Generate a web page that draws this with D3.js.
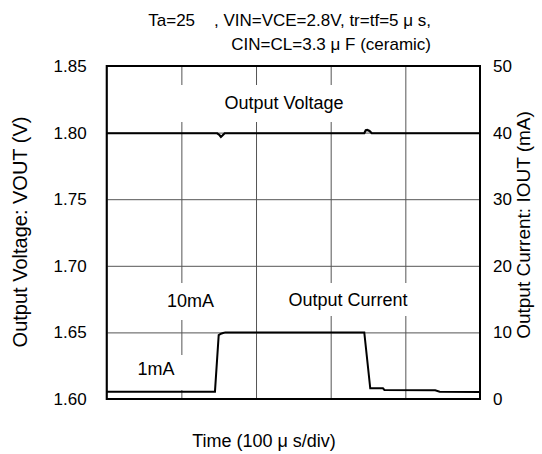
<!DOCTYPE html>
<html lang="en">
	<head>
		<meta charset="utf-8">
		<title>Load transient</title>
		<script src="https://d3js.org/d3.v7.min.js"></script>
		<style>
			body { margin: 0; background: #fff; }
			text { font-family: Arial, "Liberation Sans", sans-serif; fill: #000; }
		</style>
	</head>
	<body>
		<script type="text/javascript">

			// data (time in us)
			var voltTime = [0, 148, 151, 153, 155, 158, 345, 347, 349, 352, 355, 500];
			var voltValue = [1.7995, 1.7995, 1.7982, 1.7968, 1.7978, 1.7995, 1.7995, 1.8018, 1.8020, 1.8012, 1.7995, 1.7995];

			var currTime = [0, 145, 150, 153, 156, 159, 345, 353, 370, 372, 440, 446, 500];
			var currValue = [1.1, 1.1, 9.6, 9.8, 9.9, 10.0, 10.0, 1.6, 1.6, 1.35, 1.3, 1.1, 1.05];

			var voltTicks = [1.60, 1.65, 1.70, 1.75, 1.80, 1.85];
			var currTicks = [0, 10, 20, 30, 40, 50];
			var timeTicks = [0, 100, 200, 300, 400, 500];

			var titleLines = ["Ta=25\u00a0\u00a0\u00a0\u00a0, VIN=VCE=2.8V, tr=tf=5 \u03bc s,", "CIN=CL=3.3 \u03bc F (ceramic)"];

			var w = 542, h = 454;
			var pLeft = 106.7, pRight = 480, pTop = 66, pBottom = 399;

			var x = d3.scaleLinear().domain([0, 500]).range([pLeft, pRight]);
			var yV = d3.scaleLinear().domain([1.60, 1.85]).range([pBottom, pTop]);
			var yI = d3.scaleLinear().domain([0, 50]).range([pBottom, pTop]);

			var svg = d3.select("body").append("svg").attr("width", w).attr("height", h);

			// grid
			svg.append("g")
				.attr("transform", "translate(0," + pBottom + ")")
				.call(d3.axisBottom(x).tickValues(timeTicks).tickSize(-(pBottom - pTop)).tickFormat(""))
				.call(function(g) { g.select(".domain").remove(); })
				.selectAll("line").attr("stroke", "#555").attr("stroke-width", 1);

			svg.append("g")
				.attr("transform", "translate(" + pLeft + ",0)")
				.call(d3.axisLeft(yV).tickValues(voltTicks).tickSize(-(pRight - pLeft)).tickPadding(20).tickFormat(d3.format(".2f")))
				.call(function(g) { g.select(".domain").remove(); })
				.call(function(g) { g.selectAll("line").attr("stroke", "#555").attr("stroke-width", 1); })
				.selectAll("text").attr("font-size", 17).attr("fill", "#000");

			svg.append("g")
				.attr("transform", "translate(" + pRight + ",0)")
				.call(d3.axisRight(yI).tickValues(currTicks).tickSize(0).tickPadding(13))
				.call(function(g) { g.select(".domain").remove(); })
				.selectAll("text").attr("font-size", 17).attr("fill", "#000");

			// white label boxes cut the grid
			var boxes = [
				{t: "Output Voltage", cx: 284, cy: 103, x0: 172, x1: 345, y0: 85, y1: 122},
				{t: "10mA", cx: 190.5, cy: 301, x0: 165, x1: 216, y0: 283, y1: 320},
				{t: "Output Current", cx: 348, cy: 300, x0: 286, x1: 412, y0: 283, y1: 316},
				{t: "1mA", cx: 156, cy: 369, x0: 136, x1: 190, y0: 355, y1: 390}
			];
			svg.selectAll("rect.box").data(boxes).enter().append("rect")
				.attr("class", "box")
				.attr("x", function(d) { return d.x0; })
				.attr("y", function(d) { return d.y0; })
				.attr("width", function(d) { return d.x1 - d.x0; })
				.attr("height", function(d) { return d.y1 - d.y0; })
				.attr("fill", "#fff");
			svg.selectAll("text.lab").data(boxes).enter().append("text")
				.attr("class", "lab")
				.attr("x", function(d) { return d.cx; })
				.attr("y", function(d) { return d.cy; })
				.attr("dy", "0.35em")
				.attr("text-anchor", "middle")
				.attr("font-size", 18)
				.text(function(d) { return d.t; });

			// traces
			var vLine = d3.line().x(function(d, i) { return x(voltTime[i]); }).y(function(d) { return yV(d); });
			var iLine = d3.line().x(function(d, i) { return x(currTime[i]); }).y(function(d) { return yI(d); });

			svg.append("path").datum(voltValue).attr("d", vLine)
				.attr("fill", "none").attr("stroke", "#000").attr("stroke-width", 2.2);
			svg.append("path").datum(currValue).attr("d", iLine)
				.attr("fill", "none").attr("stroke", "#000").attr("stroke-width", 2);

			// frame
			svg.append("rect")
				.attr("x", pLeft).attr("y", pTop)
				.attr("width", pRight - pLeft).attr("height", pBottom - pTop)
				.attr("fill", "none").attr("stroke", "#000").attr("stroke-width", 2);

			// titles
			svg.selectAll("text.title").data(titleLines).enter().append("text")
				.attr("class", "title")
				.attr("x", 431)
				.attr("y", function(d, i) { return 26 + i * 24; })
				.attr("text-anchor", "end")
				.attr("font-size", 17)
				.text(function(d) { return d; });

			svg.append("text")
				.attr("transform", "translate(27," + 232 + ") rotate(-90)")
				.attr("text-anchor", "middle")
				.attr("font-size", 20)
				.text("Output Voltage: VOUT (V)");

			svg.append("text")
				.attr("transform", "translate(530," + 225 + ") rotate(-90)")
				.attr("text-anchor", "middle")
				.attr("font-size", 19)
				.text("Output Current: IOUT (mA)");

			svg.append("text")
				.attr("x", 264).attr("y", 447)
				.attr("text-anchor", "middle")
				.attr("font-size", 18)
				.text("Time (100 \u03bc s/div)");

		</script>
	</body>
</html>
